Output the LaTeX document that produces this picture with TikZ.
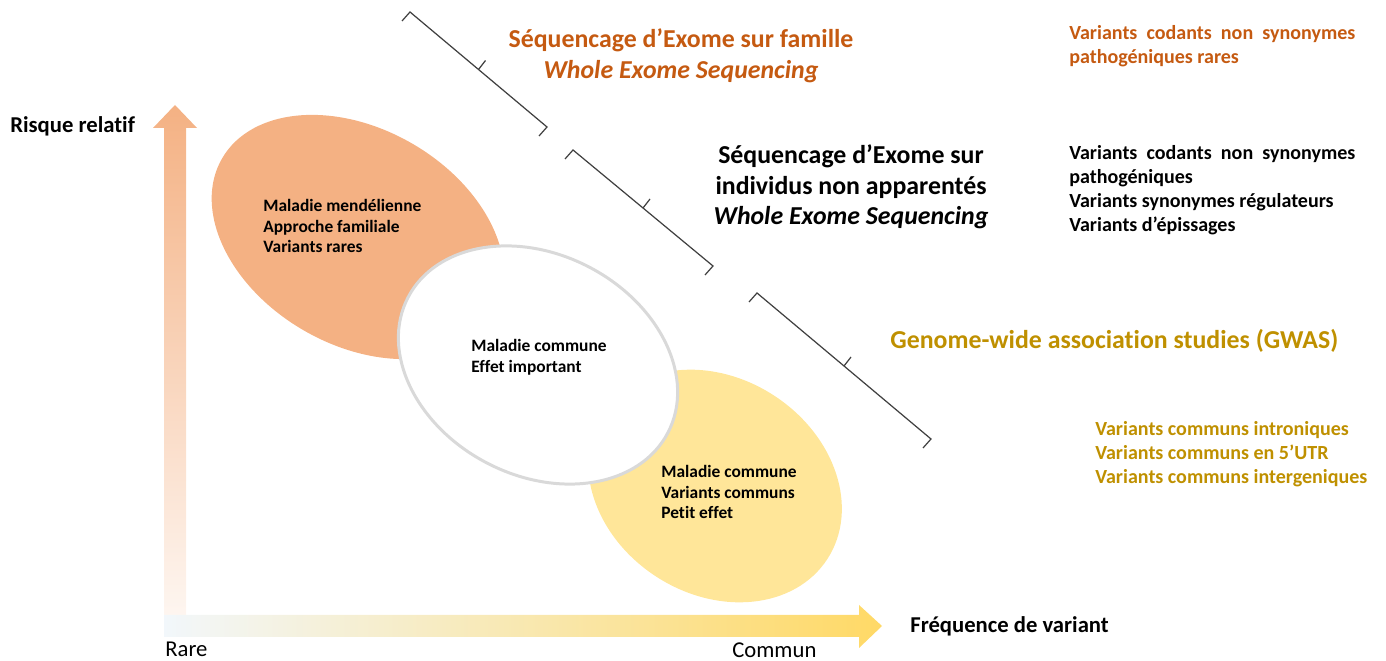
\documentclass[tikz,border=0pt]{standalone}
\usepackage{fontspec}
\setmainfont{Carlito}[Ligatures=NoCommon]
\usetikzlibrary{calc}
\hyphenpenalty=10000

\definecolor{peach}{HTML}{F4B183}
\definecolor{sand}{HTML}{FFE699}
\definecolor{rim}{HTML}{D9D9D9}
\definecolor{rust}{HTML}{C55A11}
\definecolor{ochre}{HTML}{BF9000}
\definecolor{gold}{HTML}{FFD966}
\definecolor{mist}{HTML}{F2F7FB}
\definecolor{bracketgray}{HTML}{404040}

\tikzset{
  heading/.style={font=\fontsize{14.7}{17.6}\selectfont\bfseries, align=center, inner sep=0, anchor=north},
  listtxt/.style={font=\fontsize{11.4}{13.7}\selectfont\bfseries, align=left, inner sep=0, anchor=north west},
  bubbletxt/.style={font=\fontsize{9.9}{11.7}\selectfont\bfseries, align=left, inner sep=0, anchor=north west},
  axislbl/.style={font=\fontsize{12.9}{15}\selectfont, inner sep=0, anchor=base west},
  axisbold/.style={axislbl, font=\fontsize{12.9}{15}\selectfont\bfseries},
  bracketline/.style={draw=bracketgray, line width=0.7pt},
}

\begin{document}
\begin{tikzpicture}[x=0.02cm, y=-0.02cm]
  \useasboundingbox (0,0) rectangle (1386,661);

  % axes
  \shade[top color=peach, bottom color=peach!12]
    (164,615) -- (164,128) -- (153,128) -- (175,105) -- (197,128) -- (186,128) -- (186,615) -- cycle;
  \shade[left color=mist, right color=gold]
    (164,615) -- (859,615) -- (859,605) -- (882,626) -- (859,648) -- (859,637) -- (164,637) -- cycle;

  \node[axisbold] (ylbl) at (10,133) {Risque relatif};
  \node[axisbold] (xlbl) at (910,633) {Fréquence de variant};
  \node[axislbl] (rare) at (165,657) {Rare};
  \node[axislbl] (commun) at (732,658) {Commun};

  % bubbles
  \fill[peach, rotate around={-30:(358,237)}] (358,237) ellipse [x radius=157, y radius=108];
  \fill[sand, rotate around={-33:(715,486)}] (715,486) ellipse [x radius=134, y radius=108];
  \filldraw[fill=white, draw=rim, line width=1.7pt, rotate around={-27.5:(538,365)}]
    (538,365) ellipse [x radius=146.5, y radius=110.5];

  \node[bubbletxt] (mendtxt) at (263,199) {Maladie mendélienne\\Approche familiale\\Variants rares};
  \node[bubbletxt] (bigtxt) at (471,339) {Maladie commune\\Effet important};
  \node[bubbletxt] (commtxt) at (661,465) {Maladie commune\\Variants communs\\Petit effet};

  % brackets
  \foreach \sx/\sy/\ex/\ey in {410/12/547/127, 573/150/713/266, 757/293/931/439}{
    \coordinate (bs) at (\sx,\sy);
    \coordinate (be) at (\ex,\ey);
    \draw[bracketline] ($(bs)+(-8,9)$) -- (bs) -- (be) -- ++(-8,9);
    \draw[bracketline] ($(bs)!0.5!(be)$) -- ++(7,-9);
  }

  % methods
  \node[heading, text=rust] (famhead) at (681,28)
    {Séquencage d’Exome sur famille\\\textit{Whole Exome Sequencing}};
  \node[heading] (indhead) at (851,144)
    {Séquencage d’Exome sur\\individus non apparentés\\\textit{Whole Exome Sequencing}};
  \node[heading, text=ochre, anchor=base west] (gwashead) at (890,349)
    {Genome-wide association studies (GWAS)};

  % variants
  \node[listtxt, text=rust, text width=5.72cm, align=justify] (famvar) at (1069,25)
    {Variants codants non synonymes pathogéniques rares};
  \node[listtxt, text width=5.72cm, align=justify] (indvar) at (1069,145)
    {Variants codants non synonymes pathogéniques\\Variants synonymes régulateurs\\Variants d’épissages};
  \node[listtxt, text=ochre] (gwasvar) at (1095,421)
    {Variants communs introniques\\Variants communs en 5’UTR\\Variants communs intergeniques};
\end{tikzpicture}
\end{document}
